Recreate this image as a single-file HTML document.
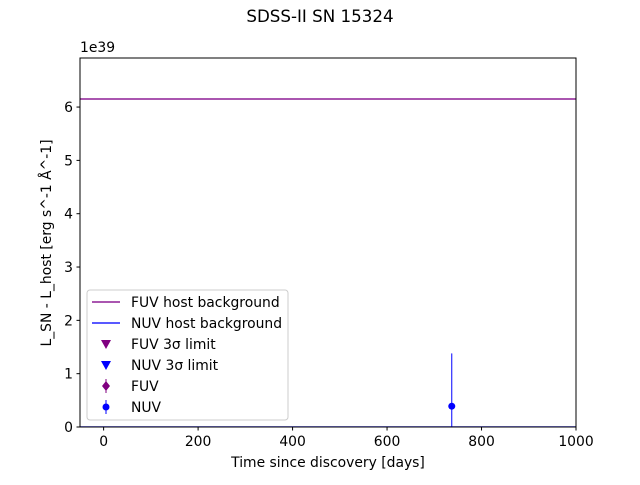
<!DOCTYPE html>
<html><head><meta charset="utf-8"><style>
body{margin:0;background:#fff;font-family:"Liberation Sans","DejaVu Sans",sans-serif}
svg text{font-family:"DejaVu Sans","Liberation Sans",sans-serif}
</style></head><body>
<svg id="c" width="640" height="480" xmlns="http://www.w3.org/2000/svg"></svg>
<script>
const xTicks=[0,200,400,600,800,1000];
const yTicks=[0,1,2,3,4,5,6];
const fuvHost=[6.15];
const nuvHost=[0.0];
const nuvDays=[737];
const nuvVals=[0.39];
const nuvErr=[0.99];
const X0=80,X1=576,Y0=427,Y1=58,xmin=-50,xmax=1000,ymin=0,ymax=6.92;
const FS=13.9;
const sx=v=>X0+(v-xmin)/(xmax-xmin)*(X1-X0);
const sy=v=>Y0-(v-ymin)/(ymax-ymin)*(Y0-Y1);
const svg=document.getElementById('c');const NS='http://www.w3.org/2000/svg';
function mk(t,a,p,txt){const e=document.createElementNS(NS,t);for(const k in a)e.setAttribute(k,a[k]);if(txt!==undefined)e.textContent=txt;(p||svg).appendChild(e);return e;}
let e;
e=mk('text',{x:320,y:22,'text-anchor':'middle','font-size':16.7},null,'SDSS-II SN 15324');


const clip=mk('clipPath',{id:'cp'});mk('rect',{x:X0,y:Y1,width:X1-X0,height:Y0-Y1},clip);
const g=mk('g',{'clip-path':'url(#cp)'});
fuvHost.forEach(v=>{e=mk('line',{x1:X0,x2:X1,y1:sy(v),y2:sy(v),stroke:'#8e1f96','stroke-width':1.5},g);

});
nuvHost.forEach(v=>{e=mk('line',{x1:X0,x2:X1,y1:sy(v),y2:sy(v),stroke:'#2222ff','stroke-width':1.5},g);

});
nuvDays.forEach((d,i)=>{const x=sx(d);
e=mk('line',{x1:x,x2:x,y1:sy(nuvVals[i]+nuvErr[i]),y2:sy(nuvVals[i]-nuvErr[i]),stroke:'#0000ff','stroke-width':1},g);


e=mk('circle',{cx:x,cy:sy(nuvVals[i]),r:3.5,fill:'#0000ff'},g);

});
e=mk('rect',{x:X0,y:Y1,width:X1-X0,height:Y0-Y1,fill:'none',stroke:'#000','stroke-width':1});


xTicks.forEach(t=>{const x=sx(t);mk('line',{x1:x,x2:x,y1:Y0,y2:Y0+3.5,stroke:'#000'});
e=mk('text',{x:x,y:Y0+19,'text-anchor':'middle','font-size':FS},null,t);

});
yTicks.forEach(t=>{const y=sy(t);mk('line',{x1:X0,x2:X0-3.5,y1:y,y2:y,stroke:'#000'});
e=mk('text',{x:X0-7,y:y+5,'text-anchor':'end','font-size':FS},null,t);

});
e=mk('text',{x:80,y:52,'font-size':FS},null,'1e39');


e=mk('text',{x:328,y:467,'text-anchor':'middle','font-size':FS},null,'Time since discovery [days]');


e=mk('text',{x:0,y:0,'text-anchor':'middle','font-size':FS,transform:'translate(51,243) rotate(-90)'},null,'L_SN - L_host [erg s^-1 Å^-1]');


const lg=mk('g',{});


mk('rect',{x:87,y:290,width:201,height:130,rx:3,fill:'#fff','fill-opacity':0.8,stroke:'#ccc'},lg);
const items=[['FUV host background','line','#8e1f96'],['NUV host background','line','#2222ff'],['FUV 3σ limit','tri','#800080'],['NUV 3σ limit','tri','#0000ff'],['FUV','dia','#800080'],['NUV','dot','#0000ff']];
items.forEach((it,i)=>{const y=302+i*21;const cx=106;
if(it[1]=='line')mk('line',{x1:92,x2:120,y1:y,y2:y,stroke:it[2],'stroke-width':1.5},lg);
if(it[1]=='tri')mk('polygon',{points:`${cx-5},${y-4} ${cx+5},${y-4} ${cx},${y+5}`,fill:it[2]},lg);
if(it[1]=='dia'){mk('line',{x1:cx,x2:cx,y1:y-7,y2:y+7,stroke:it[2]},lg);mk('polygon',{points:`${cx},${y-5} ${cx+4},${y} ${cx},${y+5} ${cx-4},${y}`,fill:it[2]},lg);}
if(it[1]=='dot'){mk('line',{x1:cx,x2:cx,y1:y-7,y2:y+7,stroke:it[2]},lg);mk('circle',{cx:cx,cy:y,r:3.5,fill:it[2]},lg);}
e=mk('text',{x:131,y:y+5,'font-size':FS},lg,it[0]);

});
</script>
</body></html>
